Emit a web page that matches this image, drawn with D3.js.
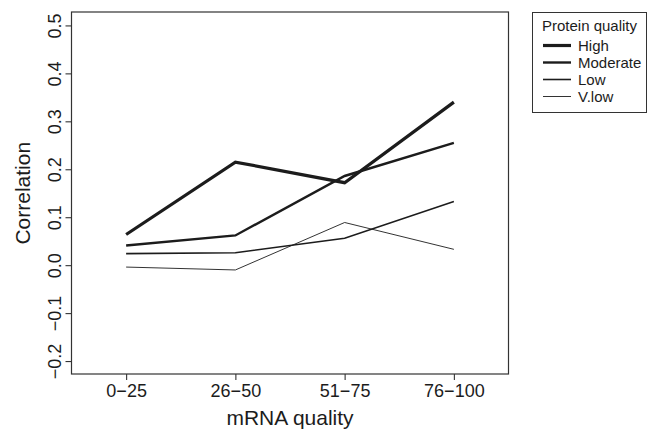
<!DOCTYPE html>
<html><head><meta charset="utf-8">
<script src="https://cdn.jsdelivr.net/npm/d3@7"></script>
<style>body{margin:0;background:#fff}svg{display:block;font-family:"Liberation Sans",Arial,sans-serif}</style>
</head><body><svg id="c" width="656" height="429"></svg>
<script>
const categories = ["0\u221225","26\u221250","51\u221275","76\u2212100"];
const seriesNames = ["High","Moderate","Low","V.low"];
const highVals = [0.064, 0.215, 0.172, 0.340];
const moderateVals = [0.041, 0.062, 0.186, 0.255];
const lowVals = [0.024, 0.026, 0.056, 0.133];
const vlowVals = [-0.004, -0.010, 0.089, 0.033];
const yTicks = [-0.2,-0.1,0.0,0.1,0.2,0.3,0.4,0.5];
const widths = [3.2, 2.4, 1.6, 0.9];

const series = [highVals, moderateVals, lowVals, vlowVals];
const svg = d3.select("#c");
const x = d3.scaleLinear().domain([0.5, 4.5]).range([71.5, 508.5]);
const y = d3.scaleLinear().domain([-0.227, 0.528]).range([374, 12]);
const ink = "#1c1c1c";

// box
svg.append("rect").attr("x",71.5).attr("y",12).attr("width",437).attr("height",362)
  .attr("fill","none").attr("stroke","#333").attr("stroke-width",1.2);

// y axis
const yAxis = d3.axisLeft(y).tickValues(yTicks).tickSize(6).tickFormat(d3.format(".1f"));
const ya = svg.append("g").attr("transform","translate(71.5,0)").call(yAxis);
ya.select(".domain").remove();
ya.selectAll("line").attr("stroke","#333").attr("stroke-width",1.1);
ya.selectAll("text").attr("font-size",18).attr("fill",ink).attr("font-family","Liberation Sans, Arial")
  .text(d => d3.format(".1f")(d).replace("-","\u2212"))
  .attr("transform", "translate(-11,0) rotate(-90)").attr("x",0).attr("y",0).attr("dy",0)
  .attr("text-anchor","middle");

// x axis
const xAxis = d3.axisBottom(x).tickValues([1,2,3,4]).tickSize(6).tickFormat((d,i)=>categories[i]);
const xa = svg.append("g").attr("transform","translate(0,374)").call(xAxis);
xa.select(".domain").remove();
xa.selectAll("line").attr("stroke","#333").attr("stroke-width",1.1);
xa.selectAll("text").attr("font-size",18).attr("fill",ink).attr("font-family","Liberation Sans, Arial")
  .attr("y",23).attr("dy",0);

// axis titles
svg.append("text").attr("x",290).attr("y",425).attr("text-anchor","middle")
  .attr("font-size",21).attr("fill",ink).text("mRNA quality");
svg.append("text").attr("transform",`translate(30,${y(0.15)}) rotate(-90)`).attr("text-anchor","middle")
  .attr("font-size",21).attr("fill",ink).text("Correlation");

// lines
const line = d3.line().x((d,i)=>x(i+1)).y(d=>y(d));
series.forEach((s,k)=>{
  svg.append("path").attr("d",line(s)).attr("fill","none").attr("stroke",ink)
    .attr("stroke-width",widths[k]).attr("stroke-linejoin","miter");
});

// legend
const lg = svg.append("g");
lg.append("rect").attr("x",532.5).attr("y",12.5).attr("width",114).attr("height",100)
  .attr("fill","#fff").attr("stroke","#333").attr("stroke-width",1);
lg.append("text").attr("x",589.5).attr("y",31).attr("text-anchor","middle").attr("font-size",15)
  .attr("fill",ink).text("Protein quality");
seriesNames.forEach((n,k)=>{
  const yy = 45.5 + k*17;
  lg.append("line").attr("x1",543).attr("x2",571).attr("y1",yy).attr("y2",yy)
    .attr("stroke",ink).attr("stroke-width",widths[k]);
  lg.append("text").attr("x",578).attr("y",yy+5).attr("font-size",15).attr("fill",ink).text(n);
});
</script></body></html>
